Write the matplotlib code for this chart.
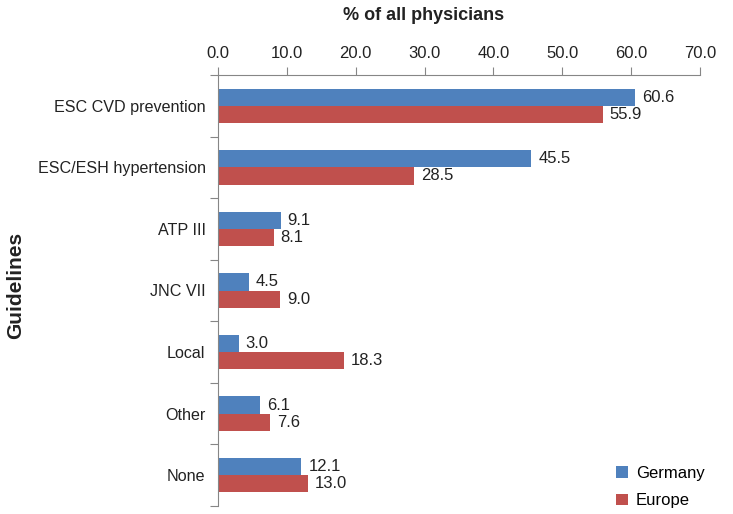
import matplotlib.pyplot as plt
import numpy as np

plt.rcParams['font.family'] = ['Liberation Sans', 'DejaVu Sans']

guidelines = ['ESC CVD prevention', 'ESC/ESH hypertension', 'ATP III', 'JNC VII',
              'Local', 'Other', 'None']
germany = [60.6, 45.5, 9.1, 4.5, 3.0, 6.1, 12.1]
europe = [55.9, 28.5, 8.1, 9.0, 18.3, 7.6, 13.0]

blue = '#4F81BD'
red = '#C0504D'
grey = '#868686'

fig = plt.figure(figsize=(7.33, 5.14), dpi=100)
ax = fig.add_axes([218 / 733, 8 / 514, 482 / 733, 431 / 514])

y = np.arange(len(guidelines))
h = 0.28
ax.barh(y - h / 2, germany, height=h, color=blue, label='Germany')
ax.barh(y + h / 2, europe, height=h, color=red, label='Europe')

for yi, g, e in zip(y, germany, europe):
    ax.annotate(f'{g:.1f}', (g, yi - h / 2), xytext=(5, 0), textcoords='offset points',
                va='center', ha='left', fontsize=12, color='#222222')
    ax.annotate(f'{e:.1f}', (e, yi + h / 2), xytext=(5, 0), textcoords='offset points',
                va='center', ha='left', fontsize=12, color='#222222')

ax.set_xlim(0, 70)
ax.set_ylim(len(guidelines) - 0.5, -0.5)
ax.xaxis.tick_top()
ax.set_xticks(np.arange(0, 71, 10))
ax.set_xticklabels([f'{v:.1f}' for v in np.arange(0, 71, 10)], fontsize=12, color='#222222')
ax.tick_params(axis='x', length=6, color=grey, pad=4)

# category labels centred, tick marks on the category boundaries
ax.set_yticks(np.arange(-0.5, len(guidelines)), minor=False)
ax.set_yticklabels([])
ax.set_yticks(y, minor=True)
ax.set_yticklabels(guidelines, minor=True, fontsize=11.6, color='#222222')
ax.tick_params(axis='y', which='major', length=6, color=grey)
ax.tick_params(axis='y', which='minor', length=0, pad=9)

for s in ['right', 'bottom']:
    ax.spines[s].set_visible(False)
for s in ['left', 'top']:
    ax.spines[s].set_color(grey)

fig.text(424 / 733, 1 - 15 / 514, '% of all physicians', ha='center', va='center',
         fontsize=13, fontweight='bold', color='#222222')
fig.text(16 / 733, 1 - 285 / 514, 'Guidelines', ha='center', va='center', rotation=90,
         fontsize=15, fontweight='bold', color='#222222')

ax.legend(loc='lower right', bbox_to_anchor=(1.041, -0.04), frameon=False, fontsize=12,
          handlelength=0.7, handleheight=0.7, handletextpad=0.5, labelspacing=0.75)

fig.savefig('out.png', dpi=100)
